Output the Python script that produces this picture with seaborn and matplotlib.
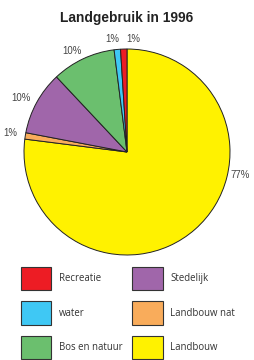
import matplotlib
matplotlib.use("Agg")
import matplotlib.pyplot as plt
import seaborn as sns
from matplotlib.patches import Patch
import numpy as np

sns.set_theme(style="white")
plt.rcParams['font.family'] = ['Liberation Sans', 'DejaVu Sans']

# Data (pie order: clockwise from top)
categories = ["Landbouw", "Landbouw nat", "Stedelijk", "Bos en natuur", "water", "Recreatie"]
values = [77, 1, 10, 10, 1, 1]
colors = ["#FFF200", "#F9AC5B", "#A066AA", "#6BBF6E", "#3FC8F4", "#ED1C24"]
legend_order = ["Recreatie", "water", "Bos en natuur", "Stedelijk", "Landbouw nat", "Landbouw"]
title = "Landgebruik in 1996"

fig = plt.figure(figsize=(2.55, 3.6), dpi=100)
fig.patch.set_facecolor("white")
ax = fig.add_axes([24/255, 1-255/360, 206/255, 206/360])

wedges, texts, autotexts = ax.pie(
    values, colors=colors, startangle=90, counterclock=False,
    autopct=lambda p: f"{p:.0f}%", pctdistance=1.15,
    wedgeprops=dict(edgecolor="#222222", linewidth=0.7),
    textprops=dict(fontsize=6.9, color="#444444"),
)
ax.set_xlim(-1, 1)
ax.set_ylim(-1, 1)
ax.set_aspect("equal")
ax.axis("off")

# move the big label to the right side like the reference
ang = np.deg2rad(-11.5)
autotexts[0].set_position((1.12 * np.cos(ang), 1.12 * np.sin(ang)))
# nudge the small top labels
x, y = autotexts[4].get_position()
autotexts[4].set_position((x - 0.03, y - 0.05))
x, y = autotexts[5].get_position()
autotexts[5].set_position((x + 0.1, y - 0.05))
x, y = autotexts[3].get_position()
autotexts[3].set_position((x - 0.04, y - 0.06))
x, y = autotexts[2].get_position()
autotexts[2].set_position((x - 0.02, y - 0.03))

fig.text(127/255, 1-18/360, title, ha="center", va="center",
         fontsize=9.9, fontweight="bold", color="#222222")

cmap = dict(zip(categories, colors))
handles = [Patch(facecolor=cmap[c], edgecolor="#333333", linewidth=0.8, label=c) for c in legend_order]
fig.legend(handles=handles, loc="upper left", bbox_to_anchor=(16/255, 1-262/360),
           ncol=2, frameon=False, borderpad=0,
           handlelength=3.2, handleheight=3.4, handletextpad=0.8,
           labelspacing=1.15, columnspacing=0.95, labelcolor="#333333",
           prop={"family": ["Open Sans", "DejaVu Sans"], "size": 6.9})

fig.savefig("out.png", dpi=100, facecolor="white")
